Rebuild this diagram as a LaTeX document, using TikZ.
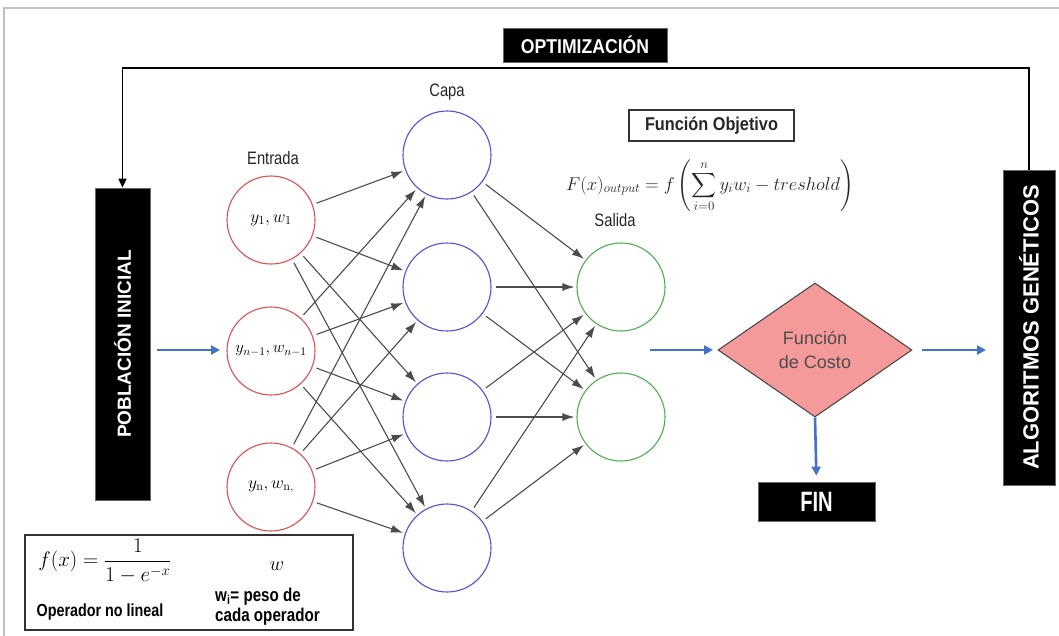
\RequirePackage{fix-cm}
\documentclass[tikz,border=0pt]{standalone}
\usepackage{amsmath}
\usepackage[no-math]{fontspec}
\setmainfont{Liberation Sans}
\newfontfamily\narrow[FakeStretch=0.82]{Liberation Sans}
\newfontfamily\condensed[FakeStretch=0.72]{Liberation Sans}
\newfontfamily\semi[FakeStretch=0.88]{Liberation Sans}
\usetikzlibrary{arrows.meta,shapes.geometric}
\definecolor{inred}{HTML}{D95050}
\definecolor{hidblue}{HTML}{4F4FD8}
\definecolor{outgreen}{HTML}{4CAF50}
\definecolor{arrblue}{HTML}{4472C4}
\definecolor{costfill}{HTML}{F59A9A}
\definecolor{framegray}{HTML}{C0C0C0}
\tikzset{
  blackbox/.style={fill=black, draw=black!60, line width=0.8pt, text=white, inner sep=0pt},
  neuron/.style={circle, minimum size=88pt, inner sep=0pt, line width=1.1pt, font=\fontsize{17.5}{20}\selectfont},
  inp/.style={neuron, draw=inred},
  hid/.style={neuron, draw=hidblue},
  outn/.style={neuron, draw=outgreen},
  conn/.style={draw=black!70, line width=1.1pt, shorten <=4pt, shorten >=2pt, -{Latex[length=12pt,width=8pt]}},
  bluearrow/.style={draw=arrblue, line width=2.6pt, -{Triangle[length=9pt,width=9pt]}},
  lbl/.style={font=\narrow\fontsize{18}{21}\selectfont, text=black!85},
  feedback/.style={draw=black, line width=1.8pt, -{Triangle[length=9pt,width=8pt]}}
}
\begin{document}
\begin{tikzpicture}[x=1pt,y=-1pt]
\useasboundingbox (0,0) rectangle (1059,635);
% outer frame
\draw[framegray, line width=1.5pt] (4,640) -- (4,8) -- (1065,8);

% title boxes
\node[blackbox, minimum width=164pt, minimum height=34pt, font=\semi\bfseries\fontsize{20}{23}\selectfont] (opt) at (585,45) {OPTIMIZACIÓN};
\node[blackbox, rotate=90, minimum width=312pt, minimum height=55pt, font=\bfseries\fontsize{19}{22}\selectfont] (pob) at (122.5,344) {POBLACIÓN INICIAL};
\node[blackbox, rotate=90, minimum width=315pt, minimum height=52pt, font=\bfseries\fontsize{22}{25}\selectfont] (ag) at (1029,327.5) {ALGORITMOS GENÉTICOS};
\node[blackbox, minimum width=117pt, minimum height=39pt, font=\condensed\bfseries\fontsize{28}{30}\selectfont] (fin) at (816.5,501.5) {FIN};

% feedback loop
\coordinate (fbR) at (1029,68);
\coordinate (fbL) at (122.5,68);
\draw[feedback] (ag.east) -- (fbR) -- (fbL) -- (pob.east);

% labels
\node[lbl] (lentrada) at (273,158) {Entrada};
\node[lbl] (lcapa) at (447,92) {Capa};
\node[lbl] (lsalida) at (615,220) {Salida};

% neurons
\node[inp] (i1) at (271,220) {$y_1,w_1$};
\node[inp, font=\fontsize{16.5}{20}\selectfont] (i2) at (271,351) {$y_{n-1},w_{n-1}$};
\node[inp] (i3) at (271,487) {$y_{\mathrm{n}},w_{\mathrm{n},}$};
\node[hid] (h1) at (447,155) {};
\node[hid] (h2) at (447,287) {};
\node[hid] (h3) at (447,417) {};
\node[hid] (h4) at (447,548) {};
\node[outn] (o1) at (621,287) {};
\node[outn] (o2) at (621,417) {};

\foreach \a in {i1,i2,i3}
  \foreach \b in {h1,h2,h3,h4}
    \draw[conn] (\a) -- (\b);
\foreach \a in {h1,h2,h3,h4}
  \foreach \b in {o1,o2}
    \draw[conn] (\a) -- (\b);

% objective function
\node[draw=black!80, line width=1.2pt, minimum width=165pt, minimum height=31pt, inner sep=0pt, font=\semi\bfseries\fontsize{18.5}{21}\selectfont, text=black!85] (fobj) at (711.5,125.5) {Función Objetivo};
\node[font=\fontsize{18.5}{22}\selectfont, text=black!85, inner sep=0pt] (formula) at (710,186)
  {$F(x)_{output}=f\left(\displaystyle\sum_{i=0}^{n} y_i w_i - treshold\right)$};

% cost function
\node[diamond, fill=costfill, draw=black!75, line width=1pt, minimum width=194pt, minimum height=134pt, inner sep=0pt, align=center, font=\fontsize{18}{24}\selectfont, text=black!70] (cost) at (815,350) {Función\\de Costo};

% blue arrows
\coordinate (a1s) at (157,350);
\coordinate (a1e) at (220,350);
\coordinate (a2s) at (650,350);
\coordinate (a2e) at (713,350);
\coordinate (a3s) at (922,350);
\coordinate (a3e) at (986,350);
\draw[bluearrow] (a1s) -- (a1e);
\draw[bluearrow] (a2s) -- (a2e);
\draw[bluearrow] (a3s) -- (a3e);
\draw[bluearrow, shorten >=6pt] (cost.south) -- (fin.north);

% legend box
\node[draw=black!80, line width=1.5pt, minimum width=328pt, minimum height=95pt, inner sep=0pt] (legend) at (189,582.5) {};
\node[font=\fontsize{21}{24}\selectfont] (fx) at (105,561) {$f(x)=\dfrac{1}{1-e^{-x}}$};
\node[font=\fontsize{20}{22}\selectfont] (w) at (277,566) {$w$};
\node[font=\narrow\bfseries\fontsize{17.5}{20}\selectfont] (opnl) at (100,612) {Operador no lineal};
\node[font=\narrow\bfseries\fontsize{18.5}{20}\selectfont, align=left, anchor=west, inner sep=0pt] (wi) at (215,607) {w\textsubscript{i}= peso de\\cada operador};
\end{tikzpicture}
\end{document}
